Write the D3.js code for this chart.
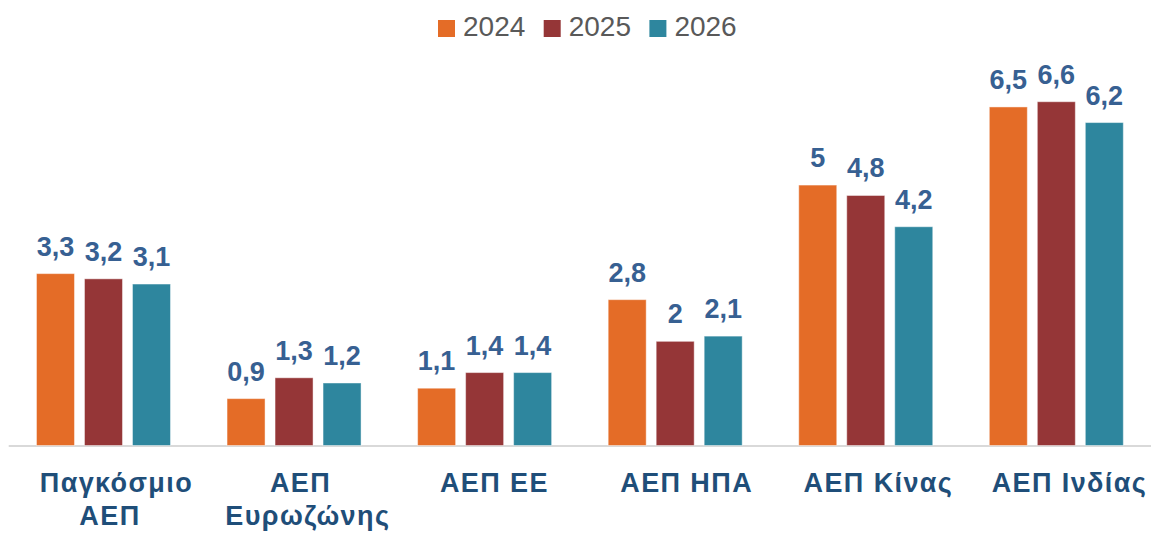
<!DOCTYPE html>
<html>
<head>
<meta charset="utf-8">
<script src="https://cdn.jsdelivr.net/npm/d3@7/dist/d3.min.js"></script>
<style>
  html, body { margin: 0; padding: 0; background: #ffffff; }
  svg { display: block; font-family: "Liberation Sans", Arial, sans-serif; }
</style>
</head>
<body>
<svg id="chart" width="1151" height="534"></svg>
<script>
const categories = [
  ["Παγκόσμιο", "ΑΕΠ"],
  ["ΑΕΠ", "Ευρωζώνης"],
  ["ΑΕΠ ΕΕ"],
  ["ΑΕΠ ΗΠΑ"],
  ["ΑΕΠ Κίνας"],
  ["ΑΕΠ Ινδίας"]
];
const seriesNames = ["2024", "2025", "2026"];
const values2024 = [3.3, 0.9, 1.1, 2.8, 5, 6.5];
const values2025 = [3.2, 1.3, 1.4, 2, 4.8, 6.6];
const values2026 = [3.1, 1.2, 1.4, 2.1, 4.2, 6.2];
const seriesValues = [values2024, values2025, values2026];
const colors = ["#E46C27", "#953637", "#2E869E"];

const svg = d3.select("#chart");
const catKeys = categories.map((c, i) => i);

const x0 = d3.scaleBand().domain(catKeys).range([8.2, 1151.6]).padding(0);
const x1 = d3.scaleBand().domain(seriesNames).range([0, 144])
  .paddingInner(10 / 48).paddingOuter(5 / 48);
const y = d3.scaleLinear().domain([0, 7]).range([445.5, 80.9]);

// axis baseline
const xAxis = d3.axisBottom(x0).tickSize(0).tickFormat("");
const axisG = svg.append("g").attr("transform", `translate(0,${y(0)})`).call(xAxis);
axisG.select(".domain").attr("stroke", "#d9d9d9").attr("stroke-width", 2);

// bars
const groups = svg.append("g").selectAll("g")
  .data(catKeys).join("g")
  .attr("transform", d => `translate(${x0(d) + x0.bandwidth() / 2 - 72},0)`);

groups.selectAll("rect")
  .data(ci => seriesNames.map((s, si) => ({ s, si, v: seriesValues[si][ci] })))
  .join("rect")
  .attr("x", d => x1(d.s))
  .attr("width", x1.bandwidth())
  .attr("y", d => y(d.v))
  .attr("height", d => y(0) - y(d.v))
  .attr("fill", d => colors[d.si])
  .attr("stroke", "rgba(255,255,255,0.45)")
  .attr("stroke-width", 1);

groups.selectAll("text.val")
  .data(ci => seriesNames.map((s, si) => ({ s, si, v: seriesValues[si][ci] })))
  .join("text")
  .attr("class", "val")
  .attr("x", d => x1(d.s) + x1.bandwidth() / 2)
  .attr("y", d => y(d.v) - 18)
  .attr("text-anchor", "middle")
  .attr("font-size", 27)
  .attr("font-weight", "bold")
  .attr("fill", "#376092")
  .text(d => String(d.v).replace(".", ","));

// category labels
const catLabels = svg.append("g").selectAll("text")
  .data(catKeys).join("text")
  .attr("x", d => x0(d) + x0.bandwidth() / 2)
  .attr("y", 491.5)
  .attr("text-anchor", "middle")
  .attr("font-size", 27)
  .attr("font-weight", "bold")
  .attr("letter-spacing", "1.4px")
  .attr("fill", "#1F4E79");
catLabels.selectAll("tspan")
  .data(d => categories[d].map((t, li) => ({ t, li, d })))
  .join("tspan")
  .attr("x", d => x0(d.d) + x0.bandwidth() / 2)
  .attr("dy", d => d.li === 0 ? 0 : 33.5)
  .text(d => d.t)
  .each(function (d) {
    const len = this.getComputedTextLength();
    d3.select(this).attr("x", x0(d.d) + x0.bandwidth() / 2 + 0.7 + 0.07 * len + 1.5);
  });

// legend
const legend = svg.append("g").attr("transform", "translate(438,0)");
const li = legend.selectAll("g").data(seriesNames).join("g")
  .attr("transform", (d, i) => `translate(${i * 105.7},0)`);
li.append("rect").attr("x", 0).attr("y", 20).attr("width", 17).attr("height", 17)
  .attr("fill", (d, i) => colors[i]);
li.append("text").attr("x", 25).attr("y", 36)
  .attr("font-size", 28).attr("fill", "#595959").text(d => d);
</script>
</body>
</html>
